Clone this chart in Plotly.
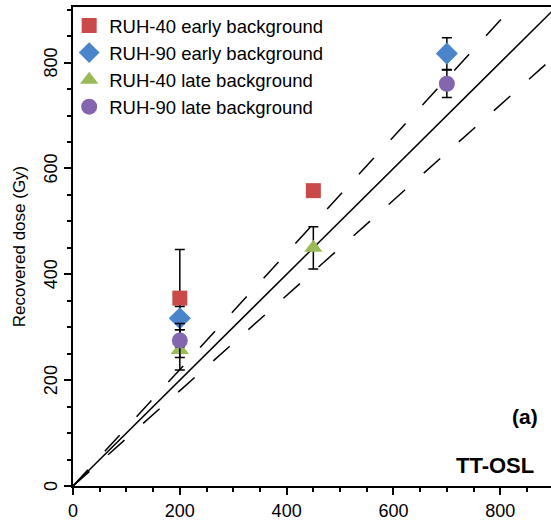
import plotly.graph_objects as go

# Data
ruh40_early_x = [200, 450]
ruh40_early_y = [355, 558]
ruh40_early_err_plus = [92, 8]
ruh40_early_err_minus = [92, 8]

ruh90_early_x = [200, 700]
ruh90_early_y = [317, 817]
ruh90_early_err = [22, 30]

ruh40_late_x = [200, 450]
ruh40_late_y = [257, 450]
ruh40_late_err = [38, 40]

ruh90_late_x = [200, 700]
ruh90_late_y = [275, 760]
ruh90_late_err = [32, 26]

line_x = [0, 1000]
ratio_unity = 1.0
ratio_upper = 1.1
ratio_lower = 0.9

y_tick_vals = [0, 200, 400, 600, 800]

fig = go.Figure()

for r, dash in [(ratio_upper, "22px,25px"), (ratio_lower, "22px,25px"), (ratio_unity, "solid")]:
    fig.add_trace(go.Scatter(x=line_x, y=[v * r for v in line_x], mode="lines",
                             line=dict(color="black", width=1.5, dash=dash),
                             showlegend=False, hoverinfo="skip"))

def eb(vals_p, vals_m=None):
    d = dict(type="data", array=vals_p, color="black", thickness=1.5, width=5)
    if vals_m is not None:
        d["arrayminus"] = vals_m
        d["symmetric"] = False
    return d

fig.add_trace(go.Scatter(x=ruh40_late_x, y=ruh40_late_y, mode="markers", name="RUH-40 late background",
                         marker=dict(symbol="triangle-up", size=16, color="#9BBB59"),
                         error_y=eb(ruh40_late_err), legendrank=3))
fig.add_trace(go.Scatter(x=ruh40_early_x, y=ruh40_early_y, mode="markers", name="RUH-40 early background",
                         marker=dict(symbol="square", size=15, color="#C94A48"),
                         error_y=eb(ruh40_early_err_plus, ruh40_early_err_minus), legendrank=1))
fig.add_trace(go.Scatter(x=ruh90_early_x, y=ruh90_early_y, mode="markers", name="RUH-90 early background",
                         marker=dict(symbol="diamond", size=17, color="#4A85CC"),
                         error_y=eb(ruh90_early_err), legendrank=2))
fig.add_trace(go.Scatter(x=ruh90_late_x, y=ruh90_late_y, mode="markers", name="RUH-90 late background",
                         marker=dict(symbol="circle", size=16, color="#8466AE"),
                         error_y=eb(ruh90_late_err), legendrank=4))

font = "Liberation Sans, Arial, sans-serif"
annotations = [
    dict(text="<b>(a)</b>", x=0.977, y=0.145, xref="paper", yref="paper",
         xanchor="right", yanchor="middle", showarrow=False, font=dict(size=21, family=font)),
    dict(text="<b>TT-OSL</b>", x=0.969, y=0.042, xref="paper", yref="paper",
         xanchor="right", yanchor="middle", showarrow=False, font=dict(size=22, family=font)),
]
# rotated y tick labels
for v in y_tick_vals:
    annotations.append(dict(text=str(v), x=0, y=v, xref="paper", yref="y", xanchor="right",
                            yanchor="middle", xshift=-10, showarrow=False, textangle=-90,
                            font=dict(size=18, family=font)))

fig.update_layout(
    width=551, height=525,
    margin=dict(l=73, r=0, t=7, b=39),
    paper_bgcolor="white", plot_bgcolor="white",
    font=dict(family=font, size=16, color="black"),
    showlegend=True,
    legend=dict(x=-0.008, y=1.0, xanchor="left", yanchor="top",
                bgcolor="rgba(0,0,0,0)", font=dict(size=18.5, family=font),
                tracegroupgap=0, itemwidth=30),
    xaxis=dict(range=[0, 895], showgrid=False, zeroline=False,
               showline=True, linecolor="black", linewidth=2, mirror=True,
               ticks="outside", ticklen=7, tickwidth=1.5, tickcolor="black",
               tick0=0, dtick=200, tickfont=dict(size=18),
               minor=dict(ticks="outside", ticklen=4, tickwidth=1.5, tickcolor="black", dtick=50)),
    yaxis=dict(range=[0, 905], showgrid=False, zeroline=False,
               showline=True, linecolor="black", linewidth=2,
               ticks="outside", ticklen=7, tickwidth=1.5, tickcolor="black",
               tick0=0, dtick=200, showticklabels=False,
               title=dict(text="Recovered dose (Gy)", font=dict(size=17), standoff=34),
               minor=dict(ticks="outside", ticklen=4, tickwidth=1.5, tickcolor="black", dtick=50)),
    annotations=annotations,
)

fig.write_html("out.html")
